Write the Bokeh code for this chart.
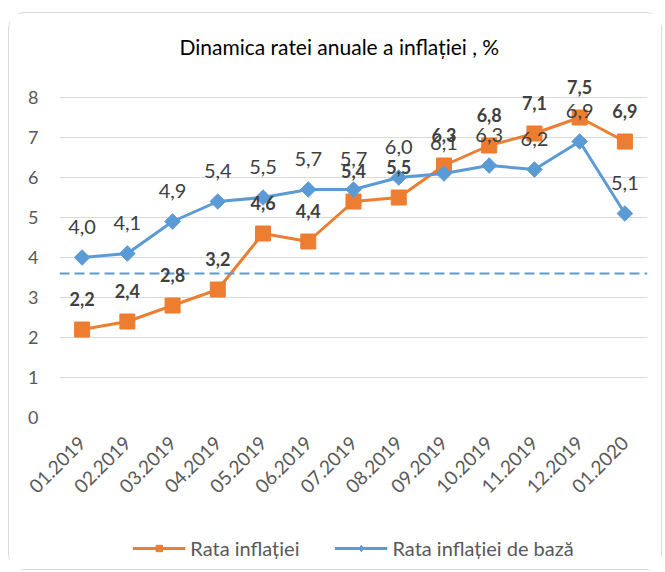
from bokeh.plotting import figure
from bokeh.layouts import column
from bokeh.models import (ColumnDataSource, FactorRange, Range1d, FixedTicker, Span,
                          Legend, LegendItem, LabelSet)
from bokeh.core.properties import value
from bokeh.embed import file_html
from bokeh.resources import INLINE
from math import pi

months = ["01.2019", "02.2019", "03.2019", "04.2019", "05.2019", "06.2019", "07.2019",
          "08.2019", "09.2019", "10.2019", "11.2019", "12.2019", "01.2020"]
rata_inflatiei = [2.2, 2.4, 2.8, 3.2, 4.6, 4.4, 5.4, 5.5, 6.3, 6.8, 7.1, 7.5, 6.9]
rata_baza = [4.0, 4.1, 4.9, 5.4, 5.5, 5.7, 5.7, 6.0, 6.1, 6.3, 6.2, 6.9, 5.1]
target_line = 3.6
y_ticks = [0, 1, 2, 3, 4, 5, 6, 7, 8]
series_names = ["Rata inflației", "Rata inflației de bază"]

ORANGE = "#ED7D31"
BLUE = "#5B9BD5"
FONT = "Lato"

def fmt(v):
    return f"{v:.1f}".replace(".", ",")

src = ColumnDataSource(dict(
    m=months, a=rata_inflatiei, b=rata_baza,
    la=[fmt(v) for v in rata_inflatiei], lb=[fmt(v) for v in rata_baza]))

p = figure(x_range=FactorRange(factors=months, range_padding=0),
           y_range=Range1d(0, 8.6),
           width=652, height=513, output_backend="svg", toolbar_location=None,
           min_border_left=50, min_border_right=14, min_border_top=60, min_border_bottom=109)

p.title.text = "Dinamica ratei anuale a inflației , %"
p.title.text_font = FONT
p.title.text_font_size = "21px"
p.title.text_font_style = "normal"
p.title.text_color = "#000000"
p.title.align = "left"
p.title.offset = 120
p.title.standoff = 30

p.outline_line_color = None
p.xgrid.grid_line_color = None
p.ygrid.grid_line_color = "#d9d9d9"
p.ygrid.grid_line_width = 1
p.yaxis.ticker = FixedTicker(ticks=y_ticks)
for ax in (p.xaxis, p.yaxis):
    ax.axis_line_color = None
    ax.major_tick_line_color = None
    ax.minor_tick_line_color = None
    ax.major_tick_out = 0
    ax.major_tick_in = 0
    ax.major_label_text_color = "#595959"
    ax.major_label_text_font = FONT
p.yaxis.major_label_text_font_size = "18px"
p.yaxis.major_label_standoff = 21
p.xaxis.major_label_text_font_size = "19px"
p.xaxis.major_label_orientation = pi / 4
p.xaxis.major_label_standoff = 22

p.add_layout(Span(location=target_line, dimension="width", line_color=BLUE,
                  line_width=2, line_dash="10 5"))

p.line("m", "a", source=src, line_color=ORANGE, line_width=3)
p.scatter("m", "a", source=src, marker="square", size=15,
          fill_color=ORANGE, line_color=ORANGE)
p.line("m", "b", source=src, line_color=BLUE, line_width=3)
p.scatter("m", "b", source=src, marker="square", angle=pi / 4, size=11,
          fill_color=BLUE, line_color=BLUE)

p.add_layout(LabelSet(x="m", y="b", text="lb", source=src, y_offset=31,
                      text_align="center", text_baseline="middle",
                      text_font=value(FONT), text_font_size="20px", text_color="#404040"))
p.add_layout(LabelSet(x="m", y="a", text="la", source=src, y_offset=31,
                      text_align="center", text_baseline="middle",
                      text_font=value(FONT), text_font_size="18px", text_font_style="bold",
                      text_color="#404040"))

# legend strip below the chart (its renderers use the same data, kept outside the visible range)
lg = figure(x_range=FactorRange(factors=months), y_range=Range1d(-20, -10),
            width=652, height=43, output_backend="svg", toolbar_location=None,
            x_axis_type=None, y_axis_type=None, min_border=0)
lg.outline_line_color = None
lg.grid.visible = False
r1 = lg.line("m", "a", source=src, line_color=ORANGE, line_width=3)
r2 = lg.scatter("m", "a", source=src, marker="square", size=11,
                fill_color=ORANGE, line_color=ORANGE)
r3 = lg.line("m", "b", source=src, line_color=BLUE, line_width=3)
r4 = lg.scatter("m", "b", source=src, marker="diamond", size=10,
                fill_color=BLUE, line_color=BLUE)
legend = Legend(items=[LegendItem(label=series_names[0], renderers=[r1, r2]),
                       LegendItem(label=series_names[1], renderers=[r3, r4])],
                orientation="horizontal", location="center",
                glyph_width=53, glyph_height=16, label_standoff=5, spacing=35,
                padding=0, margin=0, border_line_color=None, background_fill_alpha=0,
                label_text_font=FONT, label_text_font_size="20px",
                label_text_color="#595959")
lg.add_layout(legend, "center")

layout = column(p, lg, spacing=0)
layout.margin = (12, 0, 0, 8)
layout.styles = {"border": "1px solid #d9d9d9", "border-radius": "16px"}

open("out.html", "w").write(file_html(layout, INLINE))
